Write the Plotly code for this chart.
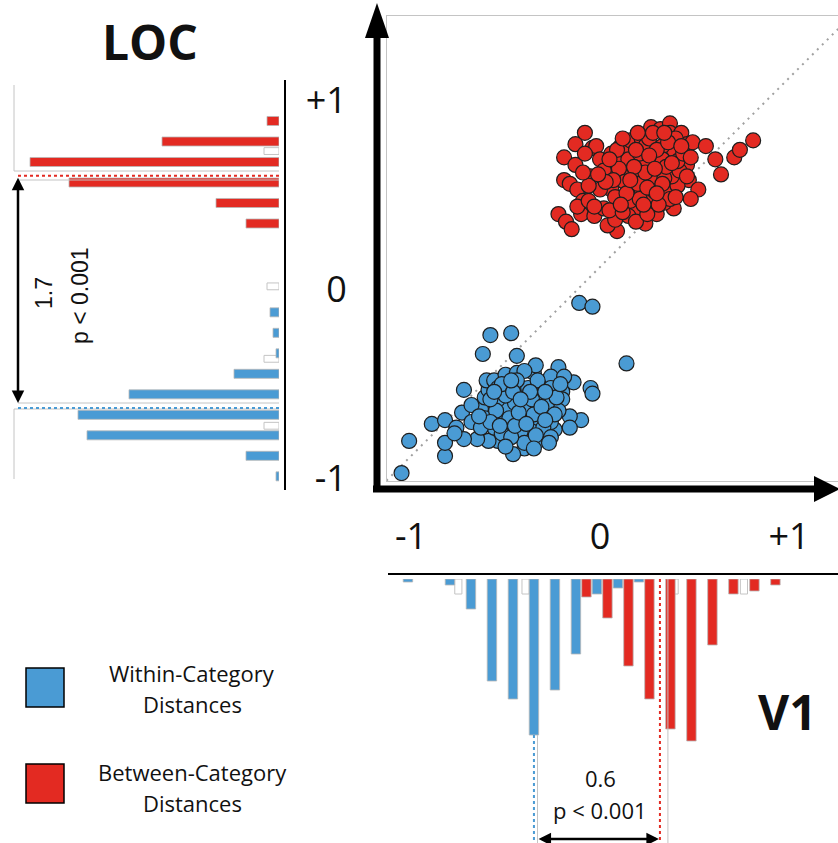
import plotly.graph_objects as go

W, H = 838, 843

# ---------------------------------------------------------------
# Scatter: pairwise dissimilarities, V1 (x) against LOC (y)
# ---------------------------------------------------------------
within_v1 = [-1.05, -1.01, -0.82, -0.82, -0.89, -0.82, -0.76, -0.73, -0.72, -0.62,
             -0.58, -0.47, -0.44, -0.11, -0.04, 0.14, -0.22, -0.14, -0.05, -0.04,
             -0.10, -0.16, -0.24, -0.33, -0.40, -0.46, -0.54, -0.59, -0.65, -0.72,
             -0.68, -0.63, -0.61, -0.59, -0.60, -0.56, -0.50, -0.44, -0.35, -0.31,
             -0.26, -0.19, -0.20, -0.20, -0.22, -0.32, -0.41, -0.52, -0.49, -0.41,
             -0.38, -0.42, -0.49, -0.54, -0.40, -0.33, -0.27, -0.31, -0.26, -0.36,
             -0.47, -0.56, -0.61, -0.68, -0.54, -0.26, -0.16, -0.34, -0.40, -0.52,
             -0.63, -0.77,
             -0.45, -0.35, -0.30, -0.48, -0.42, -0.38, -0.28, -0.55, -0.50, -0.23,
             -0.33, -0.44, -0.58, -0.40, -0.26, -0.36, -0.47, -0.31,
             -0.52, -0.46, -0.37, -0.29, -0.24, -0.34, -0.45, -0.53, -0.58, -0.43,
             -0.39, -0.29, -0.21, -0.64, -0.50, -0.35, -0.42, -0.56, -0.27, -0.47]
within_loc = [-1.09, -0.92, -1.00, -0.93, -0.83, -0.81, -0.85, -0.77, -0.65, -0.46,
              -0.36, -0.35, -0.47, -0.19, -0.21, -0.51, -0.53, -0.61, -0.64, -0.67,
              -0.81, -0.79, -0.86, -0.92, -0.96, -0.99, -0.92, -0.92, -0.91, -0.91,
              -0.82, -0.75, -0.69, -0.65, -0.60, -0.60, -0.57, -0.56, -0.56, -0.62,
              -0.58, -0.58, -0.66, -0.70, -0.76, -0.83, -0.82, -0.80, -0.74, -0.68,
              -0.70, -0.66, -0.64, -0.70, -0.76, -0.73, -0.77, -0.68, -0.64, -0.87,
              -0.87, -0.85, -0.80, -0.73, -0.64, -0.82, -0.85, -0.52, -0.55, -0.88,
              -0.85, -0.88,
              -0.72, -0.78, -0.85, -0.80, -0.87, -0.64, -0.72, -0.76, -0.68, -0.69,
              -0.60, -0.60, -0.82, -0.93, -0.90, -0.70, -0.90, -0.74,
              -0.62, -0.66, -0.66, -0.66, -0.78, -0.89, -0.84, -0.84, -0.70, -0.77,
              -0.83, -0.81, -0.62, -0.79, -0.95, -0.96, -0.70, -0.66, -0.93, -0.60]

between_v1 = [-0.08, -0.13, -0.19, -0.13, -0.19, -0.16, -0.12, -0.22, -0.18, -0.15,
              -0.10, -0.09, -0.05, -0.04, -0.02, 0.00, 0.04, 0.06, 0.11, 0.14,
              0.16, 0.22, 0.27, 0.32, 0.37, 0.37, 0.43, 0.46, 0.49, 0.56,
              0.61, 0.64, 0.71, 0.74, 0.81, 0.46, 0.47, 0.52, 0.48, 0.39,
              0.30, 0.24, 0.09, 0.04, -0.03, 0.02, 0.13, 0.20, 0.27, 0.35,
              0.41, 0.38, 0.31, 0.24, 0.19, 0.12, 0.06, 0.00, -0.06, 0.09,
              0.15, 0.21, 0.31, 0.39, 0.33, 0.24, 0.17, 0.22, 0.27, 0.34,
              0.42, 0.08, 0.15, 0.08, 0.19, 0.25, 0.34, -0.12, -0.06, -0.03,
              0.02, -0.08,
              0.10, 0.20, 0.29, 0.33, 0.41, 0.16, 0.05, 0.26, 0.40, 0.13,
              0.24, 0.37, 0.30, 0.19, 0.44, 0.07, 0.12, 0.31, 0.21, 0.35,
              0.03, 0.09, 0.18, 0.26, 0.36, 0.43, 0.29, 0.14, 0.33, 0.40,
              0.23, 0.11, 0.05, -0.01, 0.46, 0.28, 0.20, 0.38, 0.16, 0.25,
              0.30, -0.09, 0.48, 0.12, 0.34]
between_loc = [0.71, 0.65, 0.58, 0.54, 0.46, 0.44, 0.41, 0.28, 0.24, 0.20,
               0.28, 0.35, 0.48, 0.63, 0.64, 0.57, 0.51, 0.60, 0.64, 0.62,
               0.67, 0.68, 0.74, 0.73, 0.76, 0.71, 0.71, 0.65, 0.66, 0.64,
               0.57, 0.49, 0.58, 0.62, 0.67, 0.54, 0.46, 0.41, 0.36, 0.31,
               0.28, 0.23, 0.19, 0.22, 0.27, 0.31, 0.32, 0.30, 0.36, 0.41,
               0.43, 0.48, 0.51, 0.55, 0.49, 0.48, 0.41, 0.41, 0.43, 0.55,
               0.57, 0.60, 0.58, 0.62, 0.64, 0.64, 0.41, 0.41, 0.46, 0.47,
               0.51, 0.37, 0.27, 0.25, 0.24, 0.28, 0.34, 0.32, 0.35, 0.32,
               0.51, 0.60,
               0.52, 0.44, 0.40, 0.57, 0.56, 0.35, 0.30, 0.68, 0.68, 0.45,
               0.50, 0.36, 0.62, 0.62, 0.60, 0.46, 0.29, 0.33, 0.36, 0.53,
               0.45, 0.62, 0.53, 0.59, 0.66, 0.64, 0.52, 0.39, 0.44, 0.37,
               0.33, 0.33, 0.57, 0.49, 0.48, 0.71, 0.71, 0.55, 0.46, 0.42,
               0.39, 0.50, 0.58, 0.68, 0.71]

# ---------------------------------------------------------------
# LOC distance histogram (left panel)
# ---------------------------------------------------------------
loc_within_bins = [0.10, 0.25, 0.40, 0.55, 0.70, 0.85, 1.00, 1.15, 1.30]
loc_within_counts = [1, 11, 64, 67, 50, 15, 1, 2, 3]
loc_between_bins = [1.95, 2.10, 2.25, 2.40, 2.55, 2.70]
loc_between_counts = [11, 21, 70, 83, 39, 4]
loc_empty_bins = [0.47, 0.96, 1.49, 2.48]
loc_empty_counts = [5, 5, 4, 5]
loc_within_mean = 0.6
loc_between_mean = 2.3

# ---------------------------------------------------------------
# V1 distance histogram (bottom panel)
# ---------------------------------------------------------------
v1_within_bins = [-0.2, 0.0, 0.1, 0.2, 0.3, 0.4, 0.5, 0.6, 0.7, 0.8, 0.9]
v1_within_counts = [1, 2, 10, 34, 40, 52, 37, 25, 5, 3, 1]
v1_between_bins = [0.65, 0.75, 0.85, 0.95, 1.05, 1.15, 1.25, 1.35, 1.45, 1.55]
v1_between_counts = [6, 13, 29, 40, 50, 54, 22, 5, 4, 2]
v1_empty_bins = [0.04, 0.36, 1.07, 1.40]
v1_empty_counts = [5, 5, 5, 5]
v1_within_mean = 0.4
v1_between_mean = 1.0

BLUE = "#4a9bd4"
RED = "#e32a22"
EDGE = "#1e1e1e"
GREY = "#c4c4c4"
LIGHT_FONT = "Open Sans"


def px(x):
    return x / W


def py(y):
    return 1 - y / H


fig = go.Figure()

# identity diagonal
diag = [-1.13, 1.26]
fig.add_trace(go.Scatter(x=diag, y=diag, mode="lines", xaxis="x", yaxis="y",
                         line=dict(color="#a0a0a0", width=2, dash="2px,5px"),
                         hoverinfo="skip"))
fig.add_trace(go.Scatter(x=within_v1, y=within_loc, mode="markers", xaxis="x", yaxis="y",
                         marker=dict(size=15, color=BLUE, line=dict(color=EDGE, width=1.2))))
fig.add_trace(go.Scatter(x=between_v1, y=between_loc, mode="markers", xaxis="x", yaxis="y",
                         marker=dict(size=15, color=RED, line=dict(color=EDGE, width=1.2))))

# left histogram (horizontal bars growing leftwards)
fig.add_trace(go.Bar(y=loc_empty_bins, x=loc_empty_counts, orientation="h",
                     xaxis="x2", yaxis="y2", width=0.05,
                     marker=dict(color="white", line=dict(color=GREY, width=1))))
fig.add_trace(go.Bar(y=loc_within_bins, x=loc_within_counts, orientation="h",
                     xaxis="x2", yaxis="y2", width=0.066,
                     marker=dict(color=BLUE, line=dict(color="#b8b8b8", width=0.8))))
fig.add_trace(go.Bar(y=loc_between_bins, x=loc_between_counts, orientation="h",
                     xaxis="x2", yaxis="y2", width=0.066,
                     marker=dict(color=RED, line=dict(color="#b8b8b8", width=0.8))))

# bottom histogram (vertical bars hanging down)
fig.add_trace(go.Bar(x=v1_empty_bins, y=v1_empty_counts, xaxis="x3", yaxis="y3",
                     width=0.034, marker=dict(color="white", line=dict(color=GREY, width=1))))
fig.add_trace(go.Bar(x=v1_within_bins, y=v1_within_counts, xaxis="x3", yaxis="y3",
                     width=0.045, marker=dict(color=BLUE, line=dict(color="#b8b8b8", width=0.8))))
fig.add_trace(go.Bar(x=v1_between_bins, y=v1_between_counts, xaxis="x3", yaxis="y3",
                     width=0.045, marker=dict(color=RED, line=dict(color="#b8b8b8", width=0.8))))

hidden = dict(visible=False, fixedrange=True, automargin=False)

fig.update_layout(
    width=W, height=H, margin=dict(l=0, r=0, t=0, b=0, autoexpand=False),
    paper_bgcolor="white", plot_bgcolor="rgba(0,0,0,0)",
    showlegend=False, barmode="overlay",
    xaxis=dict(domain=[px(387), 1.0], range=[-1.127, 1.259], anchor="y",
               automargin=False,
               showgrid=False, zeroline=False, showline=True, mirror=True,
               linecolor=GREY, linewidth=1,
               tickvals=[-1, 0, 1], ticktext=["-1", "0", "+1"], ticks="",
               ticklabelstandoff=24,
               tickfont=dict(family=LIGHT_FONT, size=36, color="#111")),
    yaxis=dict(domain=[py(481), py(16)], range=[-1.132, 1.328], anchor="x",
               automargin=False,
               showgrid=False, zeroline=False, showline=True, mirror=False,
               linecolor=GREY, linewidth=1,
               tickvals=[-1, 0, 1], ticktext=["-1", "0", "+1"], ticks="",
               ticklabelstandoff=32, ticklabelshift=22,
               tickfont=dict(family=LIGHT_FONT, size=36, color="#111")),
    xaxis2=dict(domain=[0, px(279)], range=[93, 0], anchor="y2", **hidden),
    yaxis2=dict(domain=[py(490), py(80)], range=[0, 3.0], anchor="x2", **hidden),
    xaxis3=dict(domain=[px(388), 1.0], range=[-0.295, 1.848], anchor="y3", **hidden),
    yaxis3=dict(domain=[0, py(579)], range=[88, 0], anchor="x3", **hidden),
)

shapes = []


def paper_line(x0, y0, x1, y1, color, width, dash=None):
    shapes.append(dict(type="line", xref="paper", yref="paper",
                       x0=px(x0), y0=py(y0), x1=px(x1), y1=py(y1),
                       line=dict(color=color, width=width, dash=dash)))


def paper_poly(pts, color):
    path = "M " + " L ".join(f"{px(a):.5f},{py(b):.5f}" for a, b in pts) + " Z"
    shapes.append(dict(type="path", xref="paper", yref="paper", path=path,
                       fillcolor=color, line=dict(color=color, width=0)))


# bold scatter axes with arrowheads
paper_line(377, 492, 377, 30, "black", 7)
paper_poly([(377, 3), (365, 38), (389, 38)], "black")
paper_line(373, 489, 820, 489, "black", 7)
paper_poly([(840, 489), (814, 476), (814, 502)], "black")

# histogram baselines
paper_line(285, 80, 285, 490, "black", 2)
paper_line(388, 574, 838, 574, "black", 2)

# faint panel frame lines around the left histogram
paper_line(14, 85, 14, 171, GREY, 1)
paper_line(14, 171, 279, 171, GREY, 1)
paper_line(18, 180, 279, 180, GREY, 1)
paper_line(18, 403, 279, 403, GREY, 1)
paper_line(14, 409, 279, 409, GREY, 1)
paper_line(14, 409, 14, 479, GREY, 1)

# mean markers on the histograms
shapes.append(dict(type="line", xref="x2", yref="y2", x0=87, x1=0,
                   y0=loc_between_mean, y1=loc_between_mean,
                   line=dict(color=RED, width=2, dash="dot")))
shapes.append(dict(type="line", xref="x2", yref="y2", x0=87, x1=0,
                   y0=loc_within_mean, y1=loc_within_mean,
                   line=dict(color=BLUE, width=2, dash="dot")))
shapes.append(dict(type="line", xref="x3", yref="y3",
                   x0=v1_within_mean, x1=v1_within_mean,
                   y0=max(v1_within_counts), y1=88,
                   line=dict(color=BLUE, width=2, dash="dot")))
shapes.append(dict(type="line", xref="x3", yref="y3",
                   x0=v1_between_mean, x1=v1_between_mean, y0=0, y1=88,
                   line=dict(color=RED, width=2, dash="dot")))
shapes.append(dict(type="line", xref="x3", yref="y3",
                   x0=v1_within_mean + 0.017, x1=v1_within_mean + 0.017,
                   y0=max(v1_within_counts), y1=88, line=dict(color=GREY, width=1)))
shapes.append(dict(type="line", xref="x3", yref="y3",
                   x0=v1_between_mean + 0.038, x1=v1_between_mean + 0.038,
                   y0=0, y1=88, line=dict(color=GREY, width=1)))

# legend swatches
shapes.append(dict(type="rect", xref="paper", yref="paper",
                   x0=px(26), x1=px(64), y0=py(707), y1=py(668),
                   fillcolor=BLUE, line=dict(color="black", width=1.5)))
shapes.append(dict(type="rect", xref="paper", yref="paper",
                   x0=px(26), x1=px(64), y0=py(803), y1=py(764),
                   fillcolor=RED, line=dict(color="black", width=1.5)))

fig.update_layout(shapes=shapes)

annotations = []


def paper_text(x, y, text, size, family=LIGHT_FONT, angle=0, bold=False):
    annotations.append(dict(xref="paper", yref="paper", x=px(x), y=py(y),
                            text=f"<b>{text}</b>" if bold else text,
                            showarrow=False, textangle=angle,
                            xanchor="center", yanchor="middle",
                            font=dict(family=family, size=size, color="#111")))


paper_text(150, 42, "LOC", 48, bold=True)
paper_text(787, 711, "V1", 48, bold=True)

loc_gap = loc_between_mean - loc_within_mean
v1_gap = v1_between_mean - v1_within_mean
paper_text(44, 293, f"{loc_gap:.1f}", 23, family="Liberation Sans", angle=-90)
paper_text(80, 296, "p &lt; 0.001", 23, family="Liberation Sans", angle=-90)
paper_text(600, 778, f"{v1_gap:.1f}", 22)
paper_text(600, 810, "p &lt; 0.001", 22)

paper_text(192, 673, "Within-Category", 22)
paper_text(192, 704, "Distances", 22)
paper_text(192, 772, "Between-Category", 22)
paper_text(192, 803, "Distances", 22)

# double-headed arrows spanning the mean differences
annotations.append(dict(xref="x2", yref="y2", axref="x2", ayref="y2",
                        x=87, y=loc_between_mean - 0.015, ax=87, ay=loc_within_mean + 0.025,
                        text="", showarrow=True, arrowside="end+start",
                        arrowhead=2, arrowsize=1, arrowwidth=2.5, arrowcolor="black"))
annotations.append(dict(xref="x3", yref="y3", axref="x3", ayref="y3",
                        x=v1_between_mean - 0.005, y=86.7, ax=v1_within_mean + 0.015, ay=86.7,
                        text="", showarrow=True, arrowside="end+start",
                        arrowhead=2, arrowsize=1, arrowwidth=2.5, arrowcolor="black"))

fig.update_layout(annotations=annotations)

fig.write_html("out.html")
